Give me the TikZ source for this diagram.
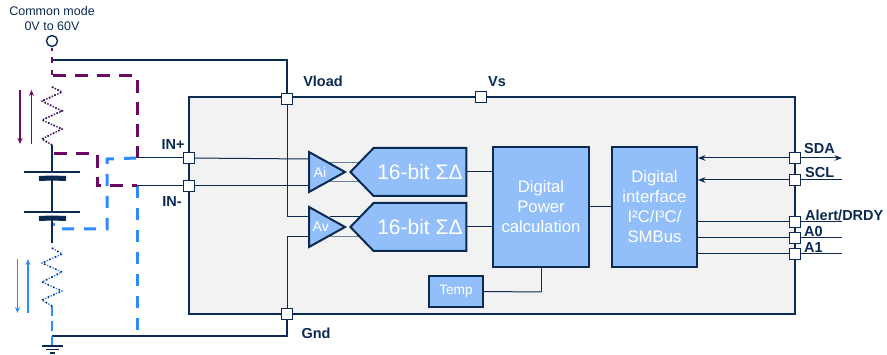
\documentclass[tikz,border=0pt]{standalone}
\usepackage{fontspec}
\setmainfont{Liberation Sans}
\usepackage{tikz}
\usetikzlibrary{shapes.geometric,shapes.symbols,arrows.meta}

\definecolor{navy}{HTML}{0B2A52}
\definecolor{plum}{HTML}{6B0A62}
\definecolor{skyline}{HTML}{2E8BFF}
\definecolor{blockfill}{HTML}{92BFFA}
\definecolor{chipfill}{HTML}{F2F2F2}

\tikzset{
    wire/.style={draw=navy,line width=1pt},
    pin/.style={draw=navy,fill=white,line width=1pt,minimum size=11pt,inner sep=0pt},
    block/.style={draw=navy,fill=blockfill,line width=2pt,inner sep=0pt,align=center,
        text=white,font=\fontsize{16.7}{20}\selectfont},
    amp/.style={block,isosceles triangle,isosceles triangle stretches,anchor=lower side,
        minimum width=40pt,minimum height=36pt,font=\fontsize{14}{16}\selectfont},
    adc/.style={block,signal,signal to=west,signal pointer angle=92,
        minimum width=116pt,minimum height=48pt,font=\fontsize{21}{24}\selectfont},
    pinlabel/.style={text=navy,inner sep=0pt,font=\bfseries\fontsize{14.5}{16}\selectfont},
    plate/.style={draw=navy,line width=2pt},
    plateshort/.style={draw=navy,line width=5pt},
    plumdash/.style={draw=plum,line width=3pt,dash pattern=on 13pt off 9pt},
    bluedash/.style={draw=skyline,line width=3pt,dash pattern=on 12pt off 10pt},
    resnavy/.style={draw=navy,line width=1.4pt,dash pattern=on 1.5pt off 4.5pt},
    resplum/.style={draw=plum,line width=1.4pt,dash pattern=on 1.5pt off 1.5pt},
    resblue/.style={draw=skyline,line width=1.4pt,dash pattern=on 1.5pt off 1.5pt},
    plumflow/.style={draw=plum,line width=1.5pt,-{Stealth[length=6pt,width=5pt]}},
    blueflow/.style={draw=skyline,line width=1.5pt,-{Stealth[length=6pt,width=5pt]}},
}

\begin{document}
\begin{tikzpicture}[x=1pt,y=-1pt]
    \useasboundingbox (0,0) rectangle (887,355);

    % chip and its pins
    \node[draw=navy,fill=chipfill,line width=2pt,minimum width=606pt,minimum height=217pt,inner sep=0pt] at (492,205.5) (chip) {};

    \node[pin] at (287,99) (vload) {};
    \node[pin] at (481,97) (vs) {};
    \node[pin] at (189,158) (inp) {};
    \node[pin] at (189,186) (inn) {};
    \node[pin] at (287,314) (gnd) {};
    \node[pin] at (795,158) (sda) {};
    \node[pin] at (795,180) (scl) {};
    \node[pin] at (795,222) (alert) {};
    \node[pin] at (795,238) (azero) {};
    \node[pin] at (795,254) (aone) {};

    % free ends and corners
    \coordinate (source) at (52,48);
    \coordinate (top) at (52,60);
    \coordinate (rtopa) at (52,87);
    \coordinate (rtopb) at (52,145);
    \coordinate (cella) at (52,172);
    \coordinate (cellb) at (52,178);
    \coordinate (cellc) at (52,212);
    \coordinate (celld) at (52,218);
    \coordinate (wireb) at (52,243);
    \coordinate (rbota) at (52,248);
    \coordinate (rbotb) at (52,306);
    \coordinate (bottom) at (52,336);
    \coordinate (earth) at (52,346);
    \coordinate (senseup) at (137,158);
    \coordinate (sensedn) at (137,186);
    \coordinate (sdaout) at (842,158);
    \coordinate (sclout) at (842,180);
    \coordinate (alertout) at (842,222);
    \coordinate (azeroout) at (842,238);
    \coordinate (aoneout) at (842,254);

    % amplifiers and converters
    \coordinate (aiup) at (308,159);
    \coordinate (aidn) at (308,186);
    \coordinate (avup) at (308,217);
    \coordinate (avdn) at (308,237);
    \draw[wire] (inp) -- (aiup);
    \draw[wire] (inn) -- (aidn);
    \draw[wire] (vload) |- (avup);
    \draw[wire] (gnd) |- (avdn);
    \draw[wire,navy!60] (330,163) -- (362,163);
    \draw[wire,navy!60] (330,182) -- (362,182);
    \draw[wire] (330,217) -- (362,217);
    \draw[wire,navy!60] (330,237) -- (362,237);

    \node[amp] at (308,172) (ai) {Ai};
    \node[amp] at (308,227) (av) {Av};
    \node[adc] at (420,172) (adci) {16-bit ΣΔ};
    \node[adc] at (420,227) (adcv) {16-bit ΣΔ};
    \node[block,minimum width=96pt,minimum height=120pt] at (541,207) (power) {Digital\\Power\\calculation};
    \node[block,minimum width=85pt,minimum height=120pt] at (654.5,207) (iface) {Digital\\interface\\I²C/I³C/\\SMBus};
    \node[block,line width=1.4pt,minimum width=54pt,minimum height=31pt,font=\fontsize{13.7}{16}\selectfont] at (456,291.5) (temp) {Temp};

    \path[wire]
    (adci) edge (adci -| power.west)
    (adcv) edge (adcv -| power.west)
    (power.east |- iface) edge (iface)
    (power.south) edge (541,292)
    (541,292) edge (temp.east);

    % bus
    \draw[wire,Stealth-] (iface.east |- sda) -- (sda);
    \draw[wire,Stealth-] (iface.east |- scl) -- (scl);
    \draw[wire] (iface.east |- alert) -- (alert);
    \draw[wire] (iface.east |- azero) -- (azero);
    \draw[wire] (iface.east |- aone) -- (aone);
    \draw[wire,-Stealth] (sda) -- (sdaout);
    \draw[wire] (scl) -- (sclout);
    \draw[wire] (alert) -- (alertout);
    \draw[wire] (azero) -- (azeroout);
    \draw[wire] (aone) -- (aoneout);

    % supply side
    \node[draw=navy,line width=1.4pt,circle,minimum size=11pt,inner sep=0pt] at (52,41) (common) {};
    \draw[wire,line width=1.4pt] (top) -| (vload);
    \draw[wire,line width=1.4pt] (bottom) -| (gnd);
    \draw[wire] (senseup) -- (inp);
    \draw[wire] (sensedn) -- (inn);
    \draw[wire,line width=1.5pt] (rtopb) -- (cella);
    \draw[wire,line width=1.5pt] (cellb) -- (cellc);
    \draw[wire,line width=1.5pt] (celld) -- (wireb);

    \draw[plate] (24,172) -- (cella) -- (80,172);
    \draw[plateshort] (39,178.5) -- (cellb) -- (66,178.5);
    \draw[plate] (24,212) -- (cellc) -- (80,212);
    \draw[plateshort] (39,218.5) -- (celld) -- (66,218.5);

    % sense paths
    \draw[bluedash] (62,229) -- (107,229) -- (107,159) -- (senseup);
    \draw[skyline,line width=2pt] (54,223) -- (54,226);
    \draw[bluedash] (sensedn) -- (137,332);
    \draw[plum,line width=2pt,dash pattern=on 3pt off 6pt on 6pt off 7pt on 5pt off 3pt] (source) -- (52,76);
    \draw[plumdash] (53,76) -- (137,76) -- (senseup);
    \draw[plumdash] (54,154) -- (97,154) -- (97,186) -- (sensedn);
    \draw[skyline,line width=2pt,dash pattern=on 10pt off 5pt] (rbotb) -- (bottom);

    % sense resistors
    \foreach \pathstyle in {resplum,resnavy}
        \draw[\pathstyle] (rtopa) -- (62,92) -- (42,101) -- (62,111) -- (42,120) -- (62,129) -- (42,139) -- (rtopb);
    \foreach \pathstyle in {resblue,resnavy}
        \draw[\pathstyle] (rbota) -- (62,254) -- (42,263) -- (62,272) -- (42,282) -- (62,291) -- (42,300) -- (rbotb);

    % current arrows
    \draw[plumflow] (20,90) -- (20,144);
    \draw[plumflow] (31.5,144) -- (31.5,90);
    \draw[blueflow] (17.5,259) -- (17.5,313);
    \draw[blueflow] (28,313) -- (28,259);

    % ground
    \draw[skyline,line width=1.5pt] (bottom) -- (earth);
    \draw[plate,line width=1.5pt] (42,346) -- (earth) -- (63,346);
    \draw[plate,line width=1.5pt] (46,349.5) -- (59,349.5);
    \draw[plate,line width=1.5pt] (50,353) -- (55,353);

    % labels
    \node[text=navy,align=center,inner sep=0pt,font=\fontsize{12.5}{15}\selectfont] at (52,18.5) (commonlabel) {Common mode\\0V to 60V};
    \node[pinlabel] at (173,145) (inplabel) {IN+};
    \node[pinlabel] at (172,202) (innlabel) {IN-};
    \node[pinlabel] at (323,81) (vloadlabel) {Vload};
    \node[pinlabel] at (497,82) (vslabel) {Vs};
    \node[pinlabel] at (316,333) (gndlabel) {Gnd};
    \node[pinlabel,anchor=west] at (804,149) (sdalabel) {SDA};
    \node[pinlabel,anchor=west] at (805,173) (scllabel) {SCL};
    \node[pinlabel,anchor=west] at (805,215) (alertlabel) {Alert/DRDY};
    \node[pinlabel,anchor=west] at (804,232) (azerolabel) {A0};
    \node[pinlabel,anchor=west] at (804,248) (aonelabel) {A1};
\end{tikzpicture}
\end{document}
